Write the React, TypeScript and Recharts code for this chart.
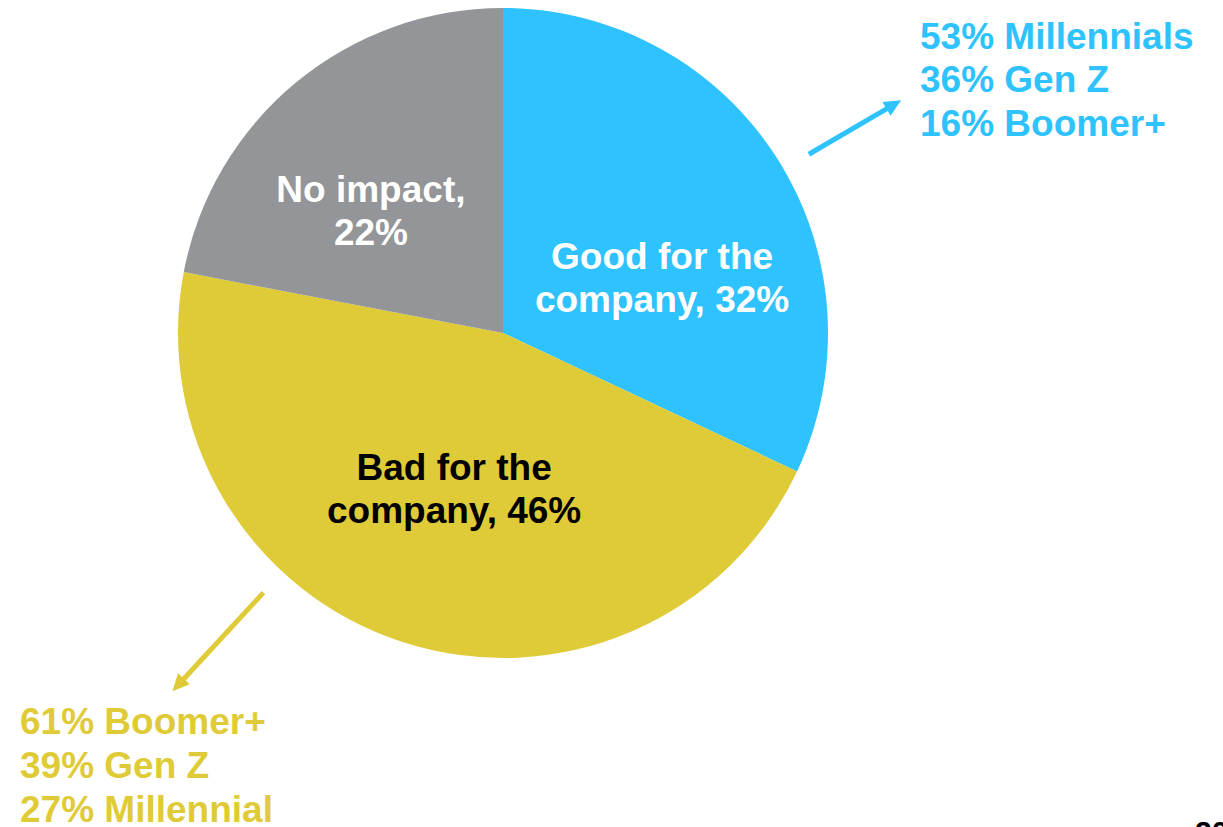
import { PieChart, Pie, Cell, Customized } from "recharts";

// Share of respondents by perceived impact
const categories = ["Good for the company", "Bad for the company", "No impact"];
const shares = [32, 46, 22];
const sliceColors = ["#2EC2FE", "#DFCB37", "#939598"];
const labelColors = ["#FFFFFF", "#000000", "#FFFFFF"];
const labelLines = [
  ["Good for the", "company, 32%"],
  ["Bad for the", "company, 46%"],
  ["No impact,", "22%"],
];

// Generation breakdowns for the callouts
const goodGenerations = ["Millennials", "Gen Z", "Boomer+"];
const goodValues = [53, 36, 16];
const badGenerations = ["Boomer+", "Gen Z", "Millennial"];
const badValues = [61, 39, 27];

const data = categories.map((name, i) => ({ name, value: shares[i] }));

const WIDTH = 1223;
const HEIGHT = 827;
const CX = 503;
const CY = 333;
const R = 325;
const FONT = "'Liberation Sans', Arial, Helvetica, sans-serif";
const FONT_SIZE = 37;
const LINE_H = 43;
const RADIAN = Math.PI / 180;

// label nudges (clockwise degrees from mid angle, fraction of radius)
const LABEL_LAYOUT = [
  { dAngle: 13.3, rFrac: 0.518 },
  { dAngle: -0.6, rFrac: 0.503 },
  { dAngle: -7.7, rFrac: 0.553 },
];

// clockwise angle from 12 o'clock -> point
function polar(angle: number, r: number) {
  return {
    x: CX + r * Math.sin(angle * RADIAN),
    y: CY - r * Math.cos(angle * RADIAN),
  };
}

function renderLabel(props: any) {
  const { midAngle, index } = props;
  const layout = LABEL_LAYOUT[index];
  // recharts angle is counter-clockwise from 3 o'clock
  const clockwise = 90 - midAngle + layout.dAngle;
  const { x, y } = polar(clockwise, R * layout.rFrac);
  const lines = labelLines[index];
  return (
    <g style={{ pointerEvents: "none" }}>
      {lines.map((line, i) => (
        <text
          key={i}
          x={x}
          y={y + (i - (lines.length - 1) / 2) * LINE_H}
          fill={labelColors[index]}
          textAnchor="middle"
          dominantBaseline="central"
          fontFamily={FONT}
          fontSize={FONT_SIZE}
          fontWeight="bold"
        >
          {line}
        </text>
      ))}
    </g>
  );
}

function Arrow({ angle, r0, r1, color }: { angle: number; r0: number; r1: number; color: string }) {
  const a = polar(angle, r0);
  const b = polar(angle, r1);
  const len = Math.hypot(b.x - a.x, b.y - a.y);
  const ux = (b.x - a.x) / len;
  const uy = (b.y - a.y) / len;
  const headLen = 17;
  const headW = 8;
  const bx = b.x - ux * headLen;
  const by = b.y - uy * headLen;
  return (
    <g>
      <line x1={a.x} y1={a.y} x2={bx + ux * 2} y2={by + uy * 2} stroke={color} strokeWidth={5} />
      <polygon
        points={`${b.x},${b.y} ${bx - uy * headW},${by + ux * headW} ${bx + uy * headW},${by - ux * headW}`}
        fill={color}
      />
    </g>
  );
}

function Callouts() {
  return (
    <g fontFamily={FONT} fontSize={FONT_SIZE} fontWeight="bold">
      <Arrow angle={59.7} r0={R * 1.09} r1={R * 1.419} color={sliceColors[0]} />
      <Arrow angle={222.7} r0={R * 1.087} r1={R * 1.5} color={sliceColors[1]} />
      {goodGenerations.map((g, i) => (
        <text key={g} x={920} y={36 + i * 43.7} dominantBaseline="central" fill={sliceColors[0]}>
          {goodValues[i]}% {g}
        </text>
      ))}
      {badGenerations.map((g, i) => (
        <text key={g} x={20} y={721.5 + i * 44} dominantBaseline="central" fill={sliceColors[1]}>
          {badValues[i]}% {g}
        </text>
      ))}
      <text x={1195} y={842} fontSize={30} fill="#000000">
        20
      </text>
    </g>
  );
}

export default function App() {
  return (
    <div style={{ position: "absolute", left: 0, top: 0, width: WIDTH, height: HEIGHT, background: "#fff" }}>
      <PieChart width={WIDTH} height={HEIGHT} margin={{ top: 0, right: 0, bottom: 0, left: 0 }}>
        <Pie
          data={data}
          dataKey="value"
          nameKey="name"
          cx={CX}
          cy={CY}
          outerRadius={R}
          innerRadius={0}
          startAngle={90}
          endAngle={-270}
          stroke="none"
          labelLine={false}
          label={renderLabel}
          isAnimationActive={false}
        >
          {data.map((entry, i) => (
            <Cell key={entry.name} fill={sliceColors[i]} />
          ))}
        </Pie>
        <Customized component={Callouts} />
      </PieChart>
    </div>
  );
}
